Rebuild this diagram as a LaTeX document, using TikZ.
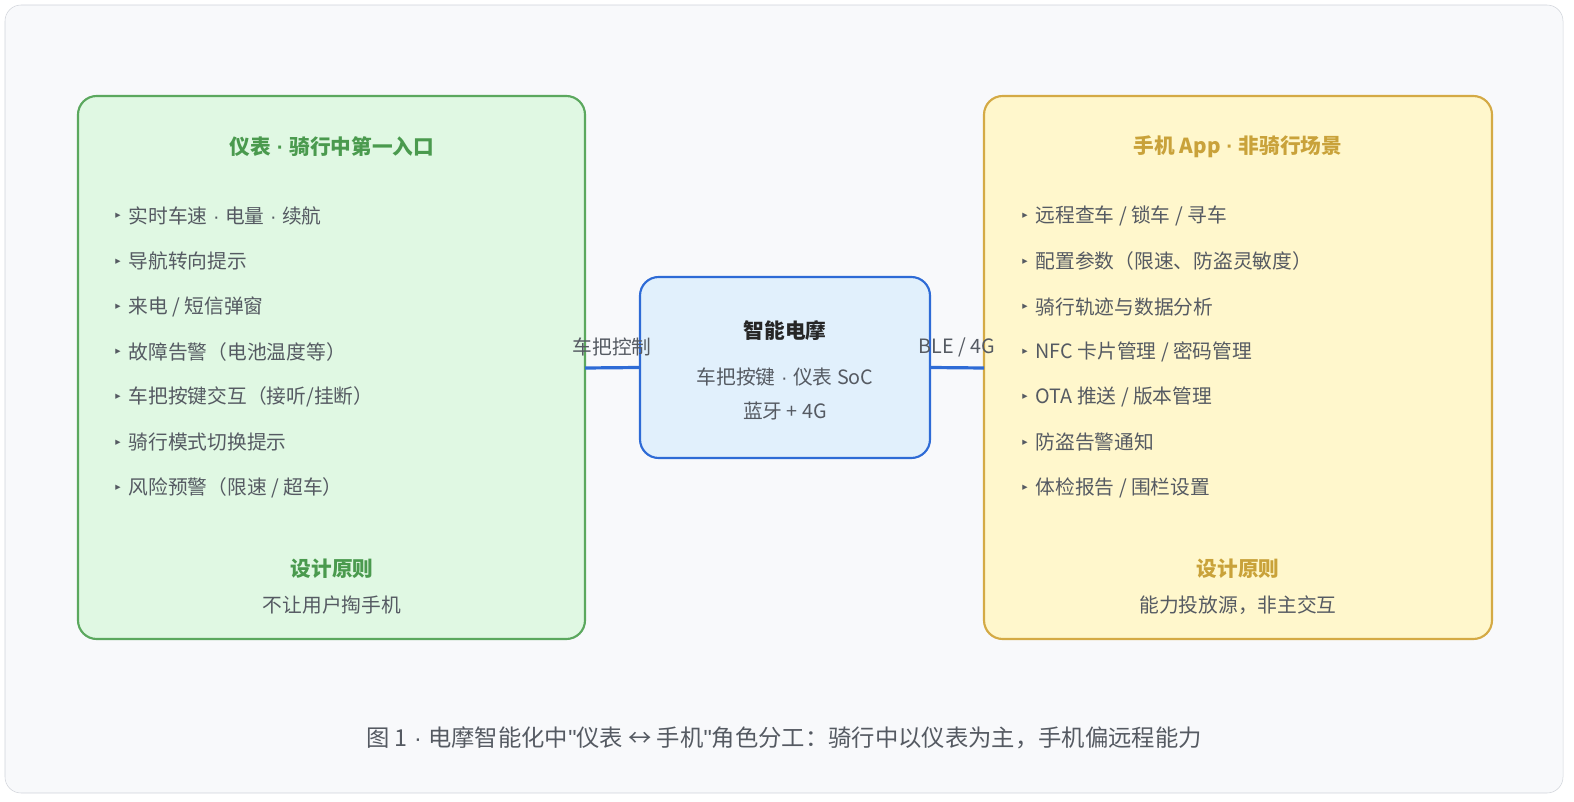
\documentclass[tikz,border=0pt]{standalone}
\usepackage{fontspec}
\setmainfont{Noto Sans CJK SC}
\newfontfamily\symfont{DejaVu Sans}
\newfontfamily\latinfont{Liberation Sans}
\newcommand{\pdot}{{\latinfont\ ·\ }}
\usetikzlibrary{positioning}
\definecolor{pagebg}{HTML}{F8F9FB}
\definecolor{pageline}{HTML}{D0D4DA}
\definecolor{meterfill}{HTML}{E0F8E3}
\definecolor{meterline}{HTML}{5BA85E}
\definecolor{meterhead}{HTML}{4A9A4E}
\definecolor{appfill}{HTML}{FFF7CC}
\definecolor{appline}{HTML}{D4AA45}
\definecolor{apphead}{HTML}{C9A23A}
\definecolor{bikefill}{HTML}{E1F0FC}
\definecolor{bikeline}{HTML}{2E6BD6}
\definecolor{bodytext}{HTML}{555A62}

\begin{document}
\begin{tikzpicture}[%
  x=0.75pt, y=-0.75pt,
  panel/.style = {rounded corners=14pt, line width=1.6pt},
  head/.style  = {font=\fontsize{15.5}{18}\selectfont\bfseries},
  item/.style  = {anchor=west, text=bodytext, font=\fontsize{14.8}{17}\selectfont},
  tip/.style   = {anchor=west, text=bodytext, font=\symfont\fontsize{8}{8}\selectfont, inner sep=0pt},
  body/.style  = {text=bodytext, font=\fontsize{14.8}{17}\selectfont},
  wire/.style  = {bikeline, line width=2.4pt},
]

  \useasboundingbox (0,0) rectangle (1574,802);
  \draw[pageline, fill=pagebg, rounded corners=12pt] (5,5) rectangle (1563,793);

  % panels
  \draw[panel, draw=meterline, fill=meterfill] (78,96) rectangle (585,639);
  \draw[panel, draw=appline, fill=appfill] (984,96) rectangle (1492,639);
  \node[panel, draw=bikeline, fill=bikefill, minimum width=290*0.75pt,
    minimum height=181*0.75pt] (bike) at (785,367.5) {};

  \coordinate (meterR) at (585,368);
  \coordinate (appL) at (984,368);
  \draw[wire] (meterR) -- (bike.west);
  \draw[wire] (bike.east) -- (appL);
  \node[body] (handle) at (612,347) {车把控制};
  \node[body] (link) at (957,347) {BLE / 4G};

  % centre
  \node[head, text=black!85] (biketitle) at (785,331) {智能电摩};
  \node[body] (bikeA) at (785,377) {车把按键\pdot 仪表 SoC};
  \node[body] (bikeB) at (785,411) {蓝牙 + 4G};

  % meter panel
  \node[head, text=meterhead] (metertitle) at (332,147) {仪表\pdot 骑行中第一入口};
  \foreach \t [count=\i] in {实时车速\pdot 电量\pdot 续航, 导航转向提示,
      来电 / 短信弹窗, 故障告警（电池温度等）, 车把按键交互（接听/挂断）,
      骑行模式切换提示, 风险预警（限速 / 超车）} {
    \node[tip] (mb\i) at (115,{216+45.3*(\i-1)}) {▸};
    \node[item] (mi\i) at (124,{216+45.3*(\i-1)}) {\t};
  }
  \node[head, text=meterhead] (meterrule) at (332,569) {设计原则};
  \node[body] (meternote) at (332,605) {不让用户掏手机};

  % app panel
  \node[head, text=apphead] (apptitle) at (1238,147) {手机 App\pdot 非骑行场景};
  \foreach \t [count=\i] in {远程查车 / 锁车 / 寻车, 配置参数（限速、防盗灵敏度）,
      骑行轨迹与数据分析, NFC 卡片管理 / 密码管理, OTA 推送 / 版本管理,
      防盗告警通知, 体检报告 / 围栏设置} {
    \node[tip] (ab\i) at (1022,{216+45.3*(\i-1)}) {▸};
    \node[item] (ai\i) at (1031,{216+45.3*(\i-1)}) {\t};
  }
  \node[head, text=apphead] (apprule) at (1238,569) {设计原则};
  \node[body] (appnote) at (1238,605) {能力投放源，非主交互};

  \node[text=bodytext, font=\fontsize{17.5}{20}\selectfont] (caption) at (784,738)
    {图 1\pdot 电摩智能化中{\latinfont"}仪表 ↔ 手机{\latinfont"}角色分工：骑行中以仪表为主，手机偏远程能力};

\end{tikzpicture}
\end{document}
